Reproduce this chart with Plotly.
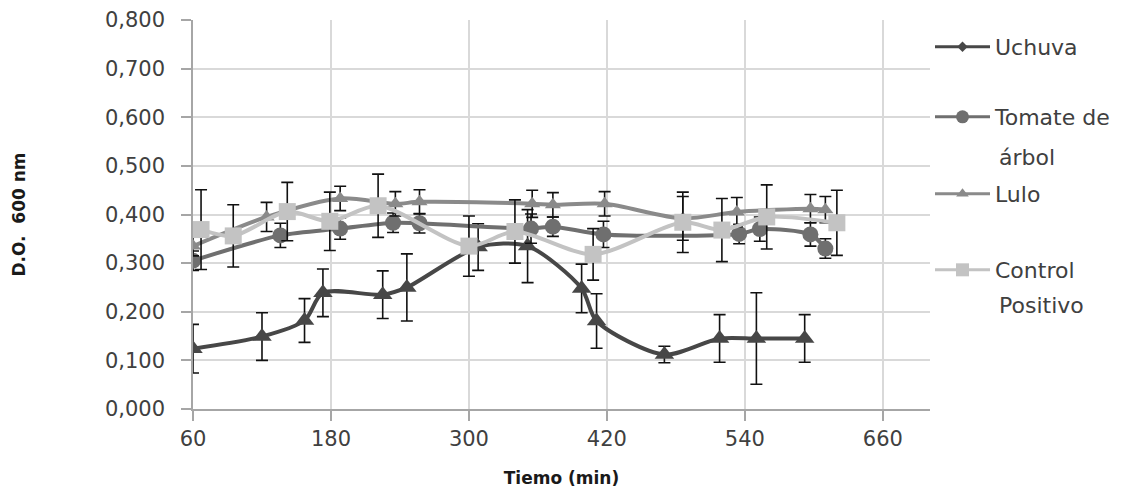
import plotly.graph_objects as go

# Tiempo (min), D.O. 600 nm y desviación para cada extracto
uchuva_t = [60, 120, 157, 173, 225, 246, 308, 351, 398, 411, 470, 518, 550, 592]
uchuva_do = [0.124, 0.149, 0.182, 0.239, 0.235, 0.250, 0.333, 0.335, 0.248, 0.181, 0.112, 0.145, 0.145, 0.145]
uchuva_sd = [0.050, 0.049, 0.045, 0.049, 0.049, 0.069, 0.048, 0.075, 0.050, 0.056, 0.017, 0.049, 0.094, 0.049]

tomate_t = [60, 136, 188, 234, 257, 354, 373, 417, 535, 553, 597, 610]
tomate_do = [0.305, 0.357, 0.371, 0.383, 0.382, 0.371, 0.375, 0.359, 0.360, 0.370, 0.359, 0.330]
tomate_sd = [0.020, 0.025, 0.022, 0.020, 0.020, 0.030, 0.020, 0.027, 0.020, 0.025, 0.024, 0.020]

lulo_t = [60, 124, 188, 236, 257, 355, 373, 418, 486, 533, 597, 610]
lulo_do = [0.335, 0.395, 0.433, 0.422, 0.426, 0.422, 0.420, 0.422, 0.392, 0.405, 0.412, 0.410]
lulo_sd = [0.020, 0.030, 0.025, 0.025, 0.025, 0.028, 0.025, 0.025, 0.045, 0.030, 0.029, 0.027]

control_t = [67, 95, 142, 179, 221, 300, 340, 408, 486, 520, 559, 620]
control_do = [0.369, 0.356, 0.406, 0.386, 0.418, 0.335, 0.365, 0.318, 0.384, 0.368, 0.395, 0.383]
control_sd = [0.082, 0.064, 0.060, 0.060, 0.065, 0.062, 0.065, 0.053, 0.062, 0.065, 0.066, 0.067]

x_ticks = [60, 180, 300, 420, 540, 660]

FONT = "DejaVu Sans"
TEXT = "#404040"
TICK_SIZE = 21
LEGEND_SIZE = 22

series = [
    # name, t, values, sd, line colour, plot marker, size, legend marker, legend size
    ("Uchuva", uchuva_t, uchuva_do, uchuva_sd, "#474747", "triangle-up", 17, "diamond", 8),
    ("Tomate de", tomate_t, tomate_do, tomate_sd, "#6f6f6f", "circle", 16, "circle", 13),
    ("Lulo", lulo_t, lulo_do, lulo_sd, "#8a8a8a", "triangle-up", 14, "triangle-up", 11),
    ("Control", control_t, control_do, control_sd, "#c3c3c3", "square", 17, "square", 13),
]

fig = go.Figure()

for name, t, v, sd, col, sym, size, _, _ in series:
    fig.add_trace(go.Scatter(
        x=t, y=v, mode="lines+markers", showlegend=False,
        line=dict(color=col, width=4, shape="spline", smoothing=0.8),
        marker=dict(symbol=sym, size=size, color=col),
        error_y=dict(type="data", array=sd, visible=True,
                     color="#111111", thickness=1.6, width=6),
    ))

# one legend block per series, spaced down the right-hand side
legend_ids = ["legend", "legend2", "legend3", "legend4"]
legend_y = [0.9306, 0.7506, 0.5527, 0.3573]
for (name, _, _, _, col, _, _, lsym, lsize), lid in zip(series, legend_ids):
    fig.add_trace(go.Scatter(
        x=[None], y=[None], mode="lines+markers", name=name, legend=lid,
        line=dict(color=col, width=3),
        marker=dict(symbol=lsym, size=lsize, color=col),
    ))

legend_common = dict(
    x=1.0, xanchor="left", yanchor="middle", bgcolor="rgba(0,0,0,0)",
    font=dict(family=FONT, size=LEGEND_SIZE, color=TEXT), itemwidth=55,
    itemclick=False, itemdoubleclick=False,
)
layout_legends = {lid: dict(legend_common, y=y) for lid, y in zip(legend_ids, legend_y)}

fig.update_layout(
    width=1132, height=491,
    margin=dict(l=193, r=202, t=20, b=82, autoexpand=False),
    paper_bgcolor="white", plot_bgcolor="white",
    separators=", ",
    font=dict(family=FONT, size=TICK_SIZE, color=TEXT),
    xaxis=dict(
        range=[60, 701], tickvals=x_ticks, ticktext=[str(v) for v in x_ticks],
        showgrid=True, gridcolor="#d9d9d9", gridwidth=2,
        showline=True, linecolor="#a6a6a6", linewidth=1.5,
        ticks="outside", ticklen=10, tickcolor="#a6a6a6", tickwidth=1.5,
        zeroline=False, automargin=False,
        tickfont=dict(family=FONT, size=TICK_SIZE, color=TEXT),
        title=dict(text="<b>Tiemo (min)</b>", font=dict(family=FONT, size=17, color="#1a1a1a"), standoff=22),
    ),
    yaxis=dict(
        range=[0, 0.8], dtick=0.1, tick0=0, tickformat=".3f",
        showgrid=True, gridcolor="#d9d9d9", gridwidth=2,
        showline=True, linecolor="#a6a6a6", linewidth=1.5,
        ticks="outside", ticklen=10, tickcolor="#a6a6a6", tickwidth=1.5,
        ticklabelstandoff=12,
        zeroline=False, automargin=False,
        tickfont=dict(family=FONT, size=TICK_SIZE, color=TEXT),
        title=dict(text="<b>D.O.  600 nm</b>", font=dict(family=FONT, size=17, color="#1a1a1a"), standoff=75),
    ),
    **layout_legends,
)

# second lines of the two-line legend labels
for txt, y in [("árbol", 0.6478), ("Positivo", 0.2648)]:
    fig.add_annotation(
        text=txt, xref="paper", yref="paper", x=1.091, y=y,
        xanchor="left", yanchor="middle", showarrow=False,
        font=dict(family=FONT, size=LEGEND_SIZE, color=TEXT),
    )

fig.write_html("out.html")
